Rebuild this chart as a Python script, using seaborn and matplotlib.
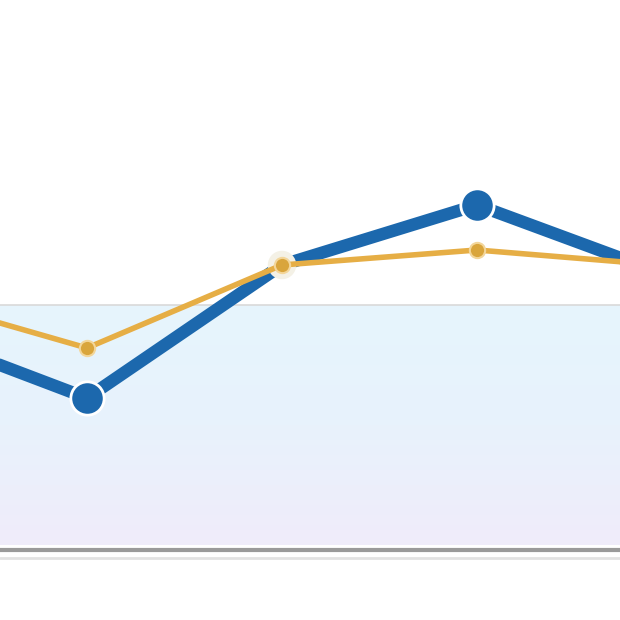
import numpy as np
import pandas as pd
import matplotlib
matplotlib.use("Agg")
import matplotlib.pyplot as plt
import seaborn as sns
from matplotlib.colors import LinearSegmentedColormap

# Data (arbitrary units)
periods = [0, 1, 2, 3, 4]
series_blue = [22.6, 15.2, 28.5, 34.5, 27.3]
series_orange = [25.8, 20.2, 28.5, 30.0, 28.4]
band_low = 0.5
band_high = 24.5

BLUE = "#1c68ad"
ORANGE = "#e6ae45"

sns.set_theme(style="white")

df = pd.DataFrame({
    "period": periods * 2,
    "value": series_blue + series_orange,
    "series": ["blue"] * len(periods) + ["orange"] * len(periods),
})
blue_df = df[df.series == "blue"]
orange_df = df[df.series == "orange"]

fig = plt.figure(figsize=(6.2, 6.2), dpi=100)
ax = fig.add_axes([0, 0, 1, 1])

# shaded band with soft gradient (light blue -> lavender)
cmap = LinearSegmentedColormap.from_list("band", ["#f0ecfa", "#e8f2fc", "#e6f5fd"])
grad = np.linspace(0, 1, 256).reshape(-1, 1)
ax.imshow(grad, cmap=cmap, aspect="auto", origin="lower",
          extent=[-1, 5, band_low, band_high], zorder=0)
ax.axhline(band_high, color="#d9d9d9", lw=1.2, zorder=1)
ax.axhline(0, color="#9a9a9a", lw=3, zorder=1)
ax.axhline(-0.8, color="#e2e2e2", lw=2, zorder=1)

# blue series: the marker where both lines meet is hidden by the orange one
sns.lineplot(data=blue_df, x="period", y="value", ax=ax,
             color=BLUE, lw=9, marker="o", ms=24, mec="white", mew=2,
             markevery=[0, 1, 3, 4], zorder=3, legend=False)

# white halo at the shared point
meet = orange_df.iloc[[2]]
sns.scatterplot(data=meet, x="period", y="value", ax=ax, s=420,
                color="#f4f1e6", edgecolor="none", zorder=3.5, legend=False)

sns.lineplot(data=orange_df, x="period", y="value", ax=ax,
             color=ORANGE, lw=4, marker="o", ms=11, mfc="#d9a53c", mec="#f3d69a",
             mew=1.5, zorder=4, legend=False)

ax.set_xlim(0.554, 3.733)
ax.set_ylim(-7, 55)
ax.axis("off")

fig.savefig("out.png", dpi=100, facecolor="white")
